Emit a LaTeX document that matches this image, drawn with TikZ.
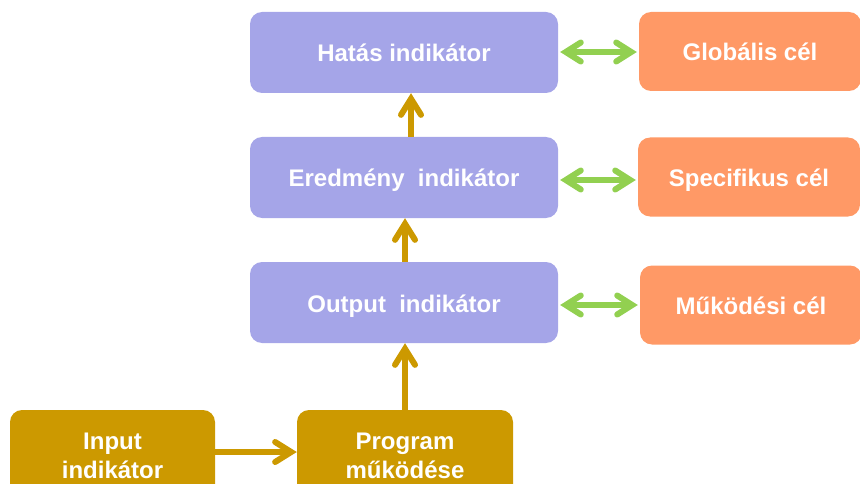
\documentclass[tikz,border=0pt]{standalone}
\usepackage{fontspec}
\setmainfont{Liberation Sans}
\usetikzlibrary{arrows.meta}
\definecolor{boxpurple}{HTML}{A5A5E8}
\definecolor{boxorange}{HTML}{FF9966}
\definecolor{boxgold}{HTML}{CC9900}
\definecolor{linkgreen}{HTML}{92D050}
\tikzset{
  label text/.style={text=white, font=\fontsize{24}{29}\selectfont\bfseries, align=center},
  one line/.style={text height=24pt, text depth=5pt},
  indbox/.style={label text, one line, fill=boxpurple, rounded corners=12pt, minimum width=308pt, minimum height=81pt, inner sep=0pt},
  goalbox/.style={label text, one line, fill=boxorange, rounded corners=12pt, minimum width=222pt, minimum height=79pt, inner sep=0pt},
  srcbox/.style={label text, fill=boxgold, rounded corners=12pt, minimum height=92pt, inner sep=0pt},
  flow/.style={draw=boxgold, line width=6pt, -{Straight Barb[length=16pt,width=20pt,line cap=round]}},
  link/.style={draw=linkgreen, line width=6pt, {Straight Barb[length=15pt,width=19pt,line cap=round]}-{Straight Barb[length=15pt,width=19pt,line cap=round]}}
}
\begin{document}
\begin{tikzpicture}[x=1pt,y=-1pt]
  \useasboundingbox (0,0) rectangle (860,484);
  \clip (0,0) rectangle (860,484);

  % indicator chain
  \node[indbox] (hat) at (404,52.5) {Hatás indikátor};
  \node[indbox] (ered) at (404,177.5) {Eredmény\ \ indikátor};
  \node[indbox] (out) at (404,302.5) {Output\ \ indikátor};

  % goals on the right
  \node[goalbox] (glob) at (750,51.5) {Globális cél};
  \node[goalbox] (spec) at (749,177) {Specifikus cél};
  \node[goalbox] (muk) at (751,305) {Működési cél};

  % inputs at the bottom (boxes run past the lower edge)
  \node[srcbox, minimum width=205pt] (inp) at (112.5,456) {Input\\indikátor};
  \node[srcbox, minimum width=216pt] (prog) at (405,456) {Program\\működése};

  % flow arrows
  \draw[flow] (inp.east |- 0,452) -- (prog.west |- 0,452);
  \draw[flow] (prog.north -| 405,0) -- (out.south -| 405,0);
  \draw[flow] (out.north -| 405,0) -- (ered.south -| 405,0);
  \draw[flow] (ered.north -| 411,0) -- (hat.south -| 411,0);

  % links between indicators and goals
  \draw[link] ([xshift=2pt]hat.east |- 0,52) -- ([xshift=-2pt]glob.west |- 0,52);
  \draw[link] ([xshift=2pt]ered.east |- 0,180) -- ([xshift=-2pt]spec.west |- 0,180);
  \draw[link] ([xshift=2pt]out.east |- 0,305) -- ([xshift=-2pt]muk.west |- 0,305);
\end{tikzpicture}
\end{document}
